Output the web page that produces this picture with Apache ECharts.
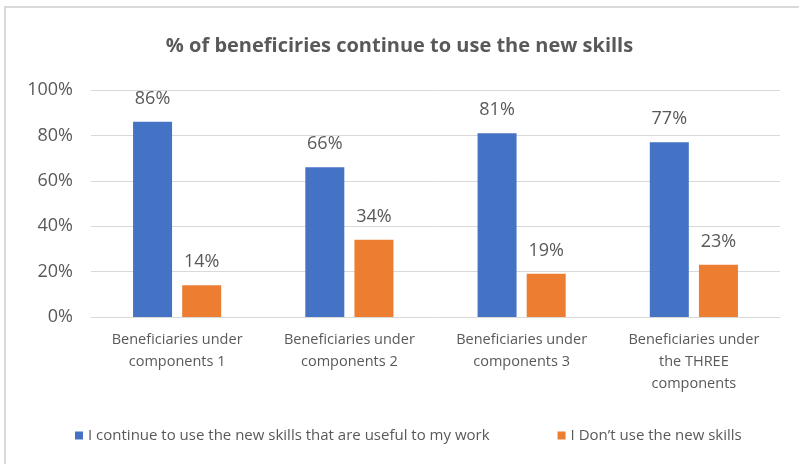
<!DOCTYPE html>
<html><head><meta charset="utf-8">
<script src="https://cdn.jsdelivr.net/npm/echarts@6/dist/echarts.min.js"></script>
<style>html,body{margin:0;padding:0;background:#fff}#c{width:799px;height:464px}</style>
</head><body><div id="c"></div>
<script>
const categories = ["Beneficiaries under\ncomponents 1", "Beneficiaries under\ncomponents 2", "Beneficiaries under\ncomponents 3", "Beneficiaries under\nthe THREE\ncomponents"];
const seriesNames = ["I continue to use the new skills that are useful to my work", "I Don’t use the new skills"];
const useSkills = [86, 66, 81, 77];
const dontUse = [14, 34, 19, 23];
const yTicks = [0, 20, 40, 60, 80, 100];
const titleText = "% of beneficiries continue to use the new skills";

const font = "Open Sans, sans-serif";
const chart = echarts.init(document.getElementById('c'), null, {renderer: 'canvas'});
chart.setOption({
  animation: false,
  backgroundColor: '#fff',
  title: {text: titleText, left: 'center', top: 31, textStyle: {fontFamily: font, fontSize: 20, fontWeight: 'bold', color: '#595959'}},
  graphic: [{type: 'rect', shape: {x: 5, y: 7, width: 820, height: 480}, style: {fill: 'none', stroke: '#d9d9d9', lineWidth: 2}}],
  legend: {bottom: 16, left: 70, itemWidth: 8, itemHeight: 8, itemGap: 68, icon: 'rect',
    textStyle: {fontFamily: font, fontSize: 15, color: '#595959'}},
  grid: {left: 91, right: 19, top: 90, bottom: 147},
  xAxis: {type: 'category', data: categories,
    axisLine: {lineStyle: {color: '#d9d9d9', width: 1}}, axisTick: {show: false},
    axisLabel: {fontFamily: font, fontSize: 14.5, color: '#595959', lineHeight: 22, margin: 12, interval: 0}},
  yAxis: {type: 'value', min: 0, max: 100, interval: 20,
    axisLabel: {fontFamily: font, fontSize: 18, color: '#595959', margin: 18, formatter: v => yTicks.includes(v) ? v + '%' : ''},
    splitLine: {lineStyle: {color: '#d9d9d9', width: 1}}, axisLine: {show: false}, axisTick: {show: false}},
  series: [
    {name: seriesNames[0], type: 'bar', data: useSkills, barWidth: 39, barGap: '26%', itemStyle: {color: '#4472c4'},
      label: {show: true, position: 'top', distance: 14, formatter: '{c}%', fontFamily: font, fontSize: 18, color: '#595959'}},
    {name: seriesNames[1], type: 'bar', data: dontUse, barWidth: 39, itemStyle: {color: '#ed7d31'},
      label: {show: true, position: 'top', distance: 14, formatter: '{c}%', fontFamily: font, fontSize: 18, color: '#595959'}}
  ]
});
</script></body></html>
